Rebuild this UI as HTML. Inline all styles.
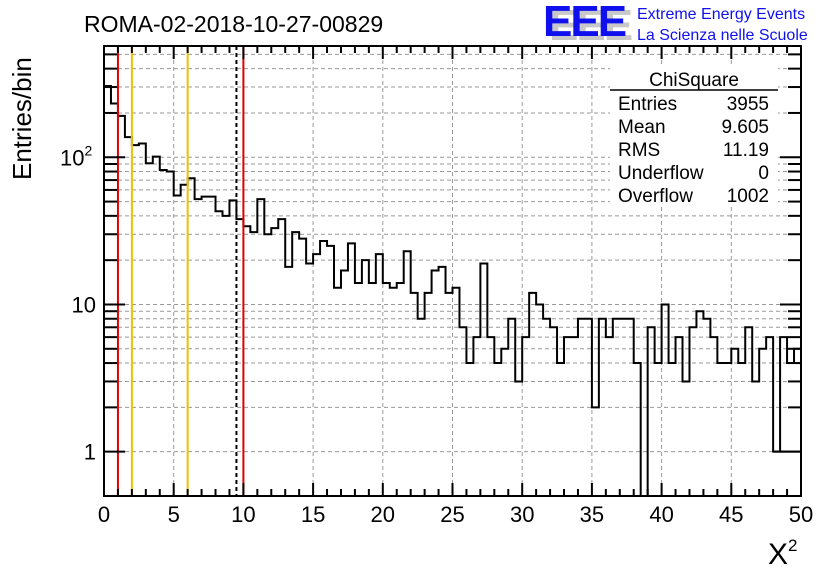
<!DOCTYPE html>
<html><head><meta charset="utf-8"><style>
body{margin:0;background:#fff;}
svg text{font-family:"Liberation Sans",sans-serif;}
</style></head><body>
<svg id="c" width="836" height="572" xmlns="http://www.w3.org/2000/svg">
<text x="84" y="32" font-size="23">ROMA-02-2018-10-27-00829</text>
<g>
<text x="549" y="40" font-size="44" font-weight="bold" fill="#c8c8c8" letter-spacing="-2">EEE</text>
<text x="543" y="36" font-size="44" font-weight="bold" fill="#1010ee" letter-spacing="-2">EEE</text>
<text x="637" y="19" font-size="16" fill="#1010ee">Extreme Energy Events</text>
<text x="637" y="40" font-size="16" fill="#1010ee">La Scienza nelle Scuole</text>
</g>
<g id="grid"></g><g id="marks"></g><g id="axes"></g>
<g>
<rect x="610" y="66" width="168" height="140" fill="#fff"/>
<text x="694" y="86" font-size="19" text-anchor="middle">ChiSquare</text>
<line x1="610" y1="90" x2="778" y2="90" stroke="#000" stroke-width="1.5"/>
<text x="618" y="110" font-size="19">Entries</text><text x="769" y="110" font-size="19" text-anchor="end">3955</text>
<text x="618" y="133" font-size="19">Mean</text><text x="769" y="133" font-size="19" text-anchor="end">9.605</text>
<text x="618" y="156" font-size="19">RMS</text><text x="769" y="156" font-size="19" text-anchor="end">11.19</text>
<text x="618" y="179" font-size="19">Underflow</text><text x="769" y="179" font-size="19" text-anchor="end">0</text>
<text x="618" y="202" font-size="19">Overflow</text><text x="769" y="202" font-size="19" text-anchor="end">1002</text>
</g>
<text x="0" y="0" font-size="26" transform="translate(31,180) rotate(-90)">Entries/bin</text>
<text x="768" y="564" font-family="Liberation Serif" font-size="30">X<tspan font-size="17" dy="-13">2</tspan></text>
</svg>
<script>
const counts=[305,232,191,137,121,124,91,101,82,80,55,65,72,52,54,54,43,40,51,38,34,31,52,30,33,38,18,31,28,19,22,27,25,13,17,26,14,20,14,22,14,13,14,23,12,8,12,17,18,12,13,7,4,6,19,6,4,5,8,3,6,12,10,8,7,4,6,6,8,8,2,8,6,8,8,8,4,0,7,4,10,4,6,3,7,9,8,6,4,4,5,4,7,3,5,6,1,6,4,5];
const xTicks=[0,5,10,15,20,25,30,35,40,45,50];
const yMajor=[1,10,100];
const vLines=[{x:1,c:"#e00000",d:""},{x:2,c:"#f0c000",d:""},{x:6,c:"#f0c000",d:""},{x:9.5,c:"#000",d:"4,3"},{x:10,c:"#e00000",d:""}];
const X0=104,X1=801,Y0=46,Y1=496,XMIN=0,XMAX=50,LMIN=Math.log10(0.5),LMAX=Math.log10(570);
const sx=v=>X0+(v-XMIN)/(XMAX-XMIN)*(X1-X0);
const sy=v=>Y1-(Math.log10(Math.max(v,0.5))-LMIN)/(LMAX-LMIN)*(Y1-Y0);
const NS="http://www.w3.org/2000/svg";
function mk(p,t,a){const e=document.createElementNS(NS,t);for(const k in a)e.setAttribute(k,a[k]);p.appendChild(e);return e;}
const grid=document.getElementById('grid'),marks=document.getElementById('marks'),axes=document.getElementById('axes');
xTicks.slice(1,-1).forEach(t=>{const l=mk(grid,'line',{x1:sx(t),x2:sx(t),y1:Y0,y2:Y1,stroke:'#999','stroke-dasharray':'4,3'});

});
yMajor.forEach(d=>{for(let m=1;m<10;m++){const v=d*m;if(v<0.5||v>570)continue;const y=sy(v);
const l=mk(grid,'line',{x1:X0,x2:X1,y1:y,y2:y,stroke:'#999','stroke-dasharray':'4,3'});


const big=m===1;
mk(axes,'line',{x1:X0,x2:X0+(big?21:13),y1:y,y2:y,stroke:'#000','stroke-width':2});
mk(axes,'line',{x1:X1,x2:X1-(big?21:13),y1:y,y2:y,stroke:'#000','stroke-width':2});}});
const bw=(XMAX-XMIN)/counts.length;let d=`M${sx(0)},${Y1}`;
counts.forEach((c,i)=>{const y=c>0?sy(c):Y1;d+=`L${sx(i*bw)},${y}L${sx((i+1)*bw)},${y}`;});
d+=`L${sx(XMAX)},${Y1}`;
const h=mk(marks,'path',{d:d,fill:'none',stroke:'#000','stroke-width':2});


const ex=mk(marks,'line',{x1:sx(96*bw),x2:sx(XMAX),y1:sy(1),y2:sy(1),stroke:'#000','stroke-width':2});


vLines.forEach(v=>{const l=mk(marks,'line',{x1:sx(v.x),x2:sx(v.x),y1:Y0,y2:Y1,stroke:v.c,'stroke-width':2,'stroke-dasharray':v.d});

});
const f=mk(axes,'rect',{x:X0,y:Y0,width:X1-X0,height:Y1-Y0,fill:'none',stroke:'#000','stroke-width':2});


for(let t=XMIN;t<=XMAX;t++){const big=t%5===0,x=sx(t),L=big?13:7;
mk(axes,'line',{x1:x,x2:x,y1:Y1,y2:Y1-L,stroke:'#000','stroke-width':2});
mk(axes,'line',{x1:x,x2:x,y1:Y0,y2:Y0+L,stroke:'#000','stroke-width':2});}
xTicks.forEach(t=>{const e=mk(axes,'text',{x:sx(t),y:522,'font-size':22,'text-anchor':'middle'});e.textContent=t;

});
[["1",1],["10",10]].forEach(([s,v])=>{const e=mk(axes,'text',{x:96,y:sy(v)+8,'font-size':22,'text-anchor':'end'});e.textContent=s;

});
const e2=mk(axes,'text',{x:60,y:sy(100)+8,'font-size':22});e2.innerHTML='10<tspan font-size="14" dy="-10">2</tspan>';


</script>
</body></html>
